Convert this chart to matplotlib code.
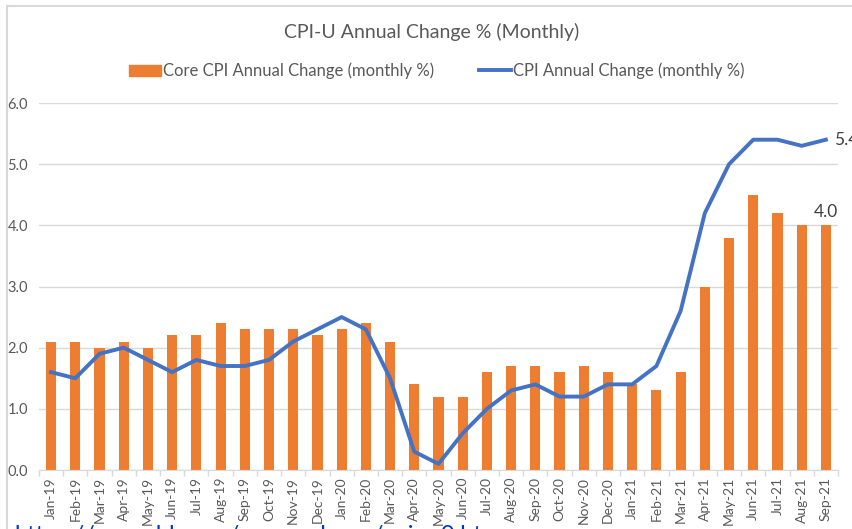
import numpy as np
import matplotlib.pyplot as plt
from matplotlib.patches import Rectangle, Patch
from matplotlib.lines import Line2D

months = ["Jan-19", "Feb-19", "Mar-19", "Apr-19", "May-19", "Jun-19", "Jul-19", "Aug-19",
          "Sep-19", "Oct-19", "Nov-19", "Dec-19", "Jan-20", "Feb-20", "Mar-20", "Apr-20",
          "May-20", "Jun-20", "Jul-20", "Aug-20", "Sep-20", "Oct-20", "Nov-20", "Dec-20",
          "Jan-21", "Feb-21", "Mar-21", "Apr-21", "May-21", "Jun-21", "Jul-21", "Aug-21",
          "Sep-21"]
core_cpi = [2.1, 2.1, 2.0, 2.1, 2.0, 2.2, 2.2, 2.4, 2.3, 2.3, 2.3, 2.2, 2.3, 2.4, 2.1, 1.4,
            1.2, 1.2, 1.6, 1.7, 1.7, 1.6, 1.7, 1.6, 1.4, 1.3, 1.6, 3.0, 3.8, 4.5, 4.2, 4.0,
            4.0]
cpi = [1.6, 1.5, 1.9, 2.0, 1.8, 1.6, 1.8, 1.7, 1.7, 1.8, 2.1, 2.3, 2.5, 2.3, 1.5, 0.3,
       0.1, 0.6, 1.0, 1.3, 1.4, 1.2, 1.2, 1.4, 1.4, 1.7, 2.6, 4.2, 5.0, 5.4, 5.4, 5.3,
       5.4]
yticks = [0.0, 1.0, 2.0, 3.0, 4.0, 5.0, 6.0]

plt.rcParams['font.family'] = ['Lato', 'DejaVu Sans']

ORANGE = "#ED7D31"
BLUE = "#4472C4"
GREY = "#595959"
GRID = "#d9d9d9"

fig = plt.figure(figsize=(8.53, 5.29), dpi=100)
ax = fig.add_axes([39 / 853, 59 / 529, 799 / 853, 367 / 529])

x = np.arange(len(months))
ax.bar(x, core_cpi, width=0.42, color=ORANGE, zorder=2)
ax.plot(x, cpi, color=BLUE, lw=2.8, zorder=3, solid_joinstyle='round')

ax.set_xlim(-0.5, len(months) - 0.5)
ax.set_ylim(0, 6)
ax.set_yticks(yticks)
ax.set_yticklabels([f"{v:.1f}" for v in yticks])
ax.yaxis.grid(True, color=GRID, lw=1, zorder=0)
ax.tick_params(axis='y', length=0, pad=8, labelsize=10.5, labelcolor=GREY)

ax.set_xticks(x)
ax.set_xticklabels(months, rotation=90)
ax.set_xticks(np.arange(-0.5, len(months)), minor=True)
ax.tick_params(axis='x', which='major', length=0, pad=5, labelsize=10, labelcolor=GREY)
ax.tick_params(axis='x', which='minor', length=4, color=GRID, width=1)

for s in ['top', 'right', 'left']:
    ax.spines[s].set_visible(False)
ax.spines['bottom'].set_color(GRID)

# data labels on the last month
ax.annotate(f"{cpi[-1]:.1f}", (x[-1], cpi[-1]), xytext=(6, 0), textcoords='offset points',
            va='center', ha='left', fontsize=12.5, color="#404040", annotation_clip=False)
ax.annotate(f"{core_cpi[-1]:.1f}", (x[-1], core_cpi[-1]), xytext=(0, 4),
            textcoords='offset points', va='bottom', ha='center', fontsize=12.5,
            color="#404040")

fig.text(432 / 853, 1 - 32 / 529, "CPI-U Annual Change % (Monthly)", ha='center',
         va='center', fontsize=14, color=GREY)

handles = [Patch(color=ORANGE), Line2D([0], [0], color=BLUE, lw=2.8)]
fig.legend(handles, ["Core CPI Annual Change (monthly %)", "CPI Annual Change (monthly %)"],
           loc='center', bbox_to_anchor=(437 / 853, 1 - 71 / 529), ncol=2, frameon=False,
           fontsize=12, labelcolor=GREY, handlelength=1.9, handleheight=0.7,
           handletextpad=0.15, columnspacing=2.7)

# chart frame, cut off by the screenshot
fig.patches.append(Rectangle((7 / 853, -0.2), 1.2, 1.2 - 6 / 529, fill=False,
                             edgecolor=GRID, lw=1.5, transform=fig.transFigure))

# source link below the chart, mostly cut off by the screenshot
fig.text(14 / 853, (529 - 542) / 529, "https://www.bls.gov/news.release/cpi.nr0.htm",
         ha='left', va='baseline', fontsize=17, color="#0033cc")

fig.savefig("out.png", dpi=100)
